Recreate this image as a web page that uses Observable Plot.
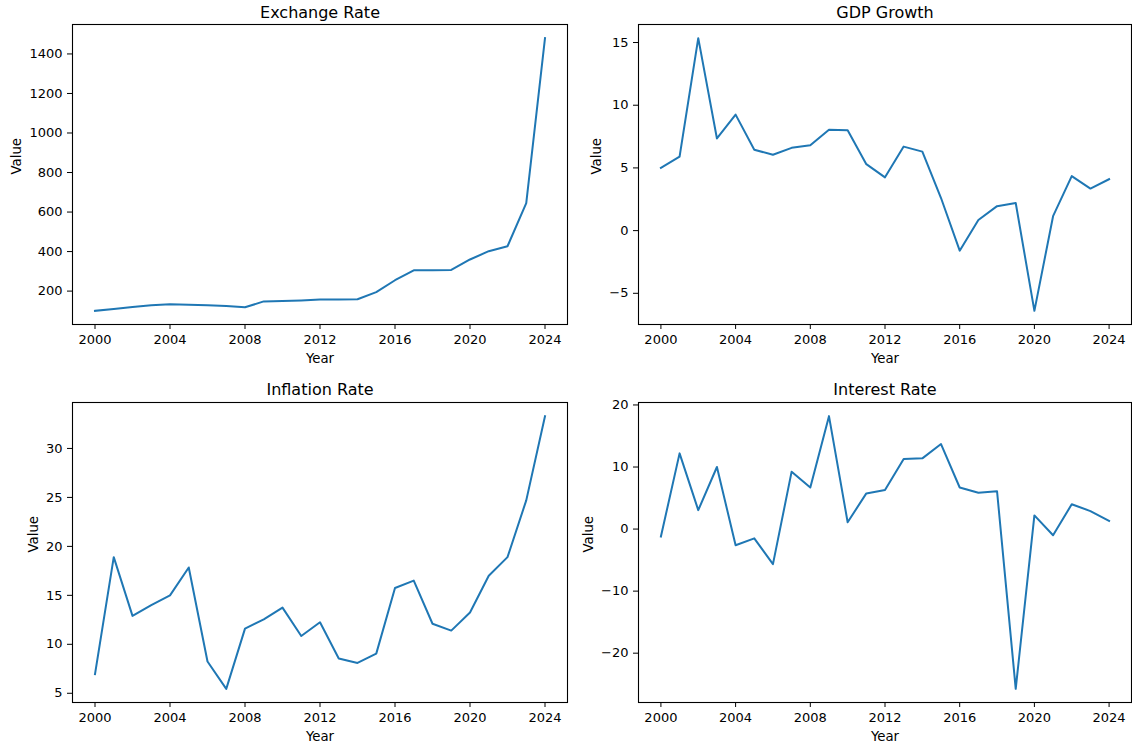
<!DOCTYPE html>
<html>
<head>
<meta charset="utf-8">
<script src="https://cdn.jsdelivr.net/npm/d3@7"></script>
<script src="https://cdn.jsdelivr.net/npm/@observablehq/plot@0.6"></script>
<style>
  html, body { margin: 0; padding: 0; background: #fff; }
  #fig { position: relative; width: 1132px; height: 746px; background: #fff; overflow: hidden; }
  #fig svg { position: absolute; }
</style>
</head>
<body>
<div id="fig"></div>
<script>
const years = [2000,2001,2002,2003,2004,2005,2006,2007,2008,2009,2010,2011,2012,2013,2014,2015,2016,2017,2018,2019,2020,2021,2022,2023,2024];
const exchangeRate = [100,110,120,129,133,131,128,125,118,148,150,153,157,158,159,195,255,305,306,307,360,402,427,645,1480];
const gdpGrowth = [5.0,5.9,15.35,7.35,9.25,6.45,6.05,6.6,6.8,8.05,8.0,5.3,4.25,6.7,6.3,2.6,-1.6,0.85,1.95,2.2,-6.4,1.15,4.35,3.35,4.1];
const inflationRate = [6.95,18.9,12.9,14.0,15.0,17.85,8.25,5.45,11.6,12.55,13.75,10.85,12.25,8.55,8.1,9.05,15.75,16.5,12.1,11.4,13.25,17.0,18.9,24.7,33.3];
const interestRate = [-1.2,12.2,3.05,10.0,-2.6,-1.5,-5.65,9.25,6.7,18.2,1.1,5.75,6.3,11.3,11.4,13.7,6.7,5.85,6.1,-25.75,2.2,-1.0,4.0,2.9,1.3];

const xTicks = [2000,2004,2008,2012,2016,2020,2024];
const exchangeTicks = [200,400,600,800,1000,1200,1400];
const gdpTicks = [-5,0,5,10,15];
const inflationTicks = [5,10,15,20,25,30];
const interestTicks = [-20,-10,0,10,20];

const titles = ["Exchange Rate","GDP Growth","Inflation Rate","Interest Rate"];
const xLabel = "Year";
const yLabel = "Value";

function padded(arr) {
  const [lo, hi] = d3.extent(arr);
  const m = (hi - lo) * 0.05;
  return [lo - m, hi + m];
}
const minusFmt = d => d < 0 ? "\u2212" + Math.abs(d) : String(d);

const panels = [
  {title: titles[0], values: exchangeRate, ticks: exchangeTicks, left: 0,   top: 0,   width: 570, mL: 72, mR: 3, mT: 24, mB: 49, titleDy: -12, yDx: -56},
  {title: titles[1], values: gdpGrowth,    ticks: gdpTicks,      left: 566, top: 0,   width: 566, mL: 72, mR: 1, mT: 24, mB: 49, titleDy: -12, yDx: -42},
  {title: titles[2], values: inflationRate,ticks: inflationTicks,left: 0,   top: 373, width: 570, mL: 72, mR: 3, mT: 29, mB: 44, titleDy: -13, yDx: -39},
  {title: titles[3], values: interestRate, ticks: interestTicks, left: 566, top: 373, width: 566, mL: 72, mR: 1, mT: 29, mB: 44, titleDy: -13, yDx: -50}
];

const fig = document.getElementById("fig");
for (const p of panels) {
  const data = years.map((yr, i) => ({year: yr, value: p.values[i]}));
  const chart = Plot.plot({
    width: p.width,
    height: 373,
    marginLeft: p.mL,
    marginRight: p.mR,
    marginTop: p.mT,
    marginBottom: p.mB,
    style: {background: "transparent", overflow: "visible", fontFamily: "'DejaVu Sans', sans-serif", fontSize: "13px", color: "#000"},
    x: {domain: padded(years)},
    y: {domain: padded(p.values)},
    marks: [
      Plot.axisX({ticks: xTicks, tickFormat: d => String(d), tickSize: 5, tickPadding: 5, label: null, strokeWidth: 1, fontSize: 13}),
      Plot.axisY({ticks: p.ticks, tickFormat: minusFmt, tickSize: 5, tickPadding: 5, label: null, strokeWidth: 1, fontSize: 13}),
      Plot.line(data, {x: "year", y: "value", stroke: "#1f77b4", strokeWidth: 2, strokeLinejoin: "round", strokeLinecap: "square"}),
      Plot.frame({stroke: "#000", strokeWidth: 1.1}),
      Plot.text([p.title], {frameAnchor: "top", dy: p.titleDy, fontSize: 16, lineAnchor: "middle", fill: "#000"}),
      Plot.text([xLabel], {frameAnchor: "bottom", dy: 34, fontSize: 13.3, lineAnchor: "middle", fill: "#000"}),
      Plot.text([yLabel], {frameAnchor: "left", dx: p.yDx, rotate: -90, fontSize: 13.3, lineAnchor: "middle", fill: "#000"})
    ]
  });
  chart.style.left = p.left + "px";
  chart.style.top = p.top + "px";
  fig.appendChild(chart);
}
</script>
</body>
</html>
